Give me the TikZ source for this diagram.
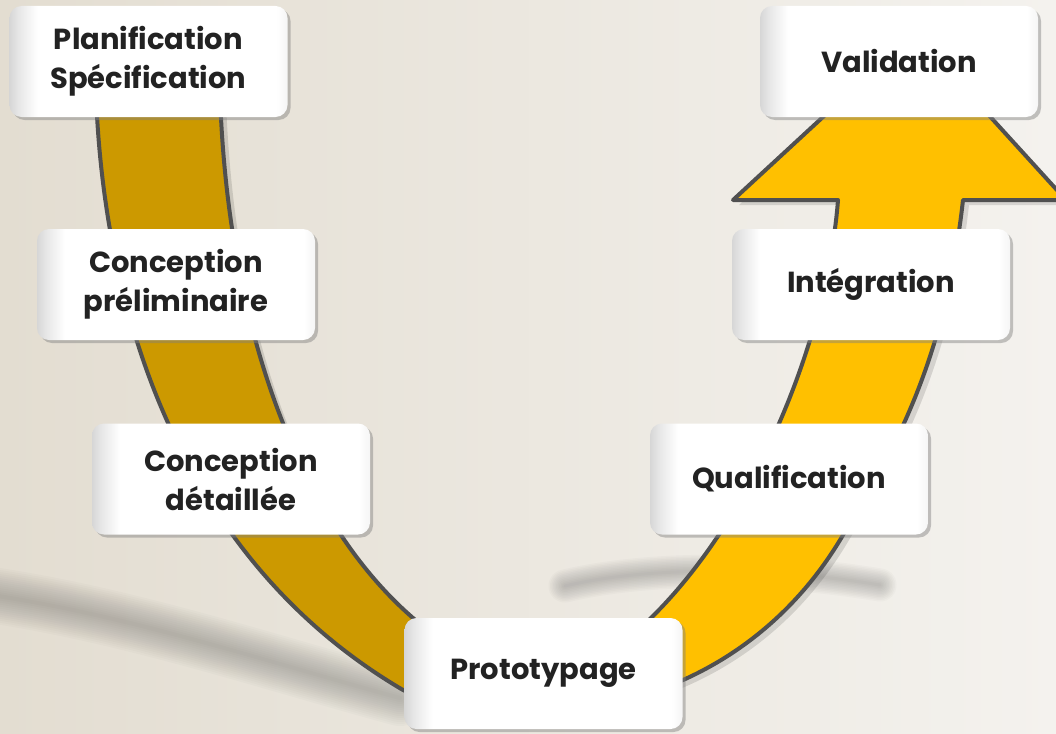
\documentclass[tikz,border=0pt]{standalone}
\usepackage{fontspec}
\setmainfont{Poppins}
\usetikzlibrary{shadows}
\definecolor{bgL}{HTML}{E3DDD1}
\definecolor{bgR}{HTML}{F4F2EE}
\definecolor{darkgold}{HTML}{CC9900}
\definecolor{gold}{HTML}{FFC000}
\definecolor{edgegray}{HTML}{505050}
\definecolor{txt}{HTML}{222222}
\pgfdeclarehorizontalshading{bevelshade}{100bp}{color(0bp)=(black!16); color(25bp)=(black!16); color(26.5bp)=(black!10); color(30bp)=(white); color(73bp)=(white); color(75bp)=(black!4); color(100bp)=(black!4)}
\def\darkpath{(96,95) .. controls (105,330) and (190,565) .. (403,690) .. controls (450,712) and (500,719) .. (548,719) -- (548,657) .. controls (500,657) and (450,650) .. (413,618) .. controls (300,520) and (228,330) .. (220,95) -- cycle}
\def\lightpath{(538,657) .. controls (590,657) and (625,645) .. (652,617) .. controls (760,510) and (828,330) .. (838,200) -- (733,200) -- (914,33) -- (1066,200) -- (963,200) .. controls (945,360) and (895,450) .. (843,535) .. controls (805,600) and (750,650) .. (683,680) .. controls (638,700) and (590,719) .. (538,719) -- cycle}
\begin{document}
\begin{tikzpicture}[x=1pt,y=-1pt,
  stage/.style={rounded corners=12pt, minimum width=278pt, minimum height=111pt,
    shading=bevelshade, align=center, text=txt,
    font=\fontsize{29}{39}\selectfont\bfseries,
    drop shadow={shadow xshift=3pt, shadow yshift=-3pt, opacity=0.45}},
  bandline/.style={draw=edgegray, line width=4pt, line join=round},
  swoosh/.style={black!60, line cap=round},
]
\useasboundingbox (0,0) rectangle (1056,733);
\fill[left color=bgL, right color=bgR] (0,0) rectangle (1056,733);
% soft background swooshes
\foreach \w in {4,8,...,56}{
  \draw[swoosh, line width=\w pt, opacity=0.03] (-30,592) .. controls (120,612) and (260,660) .. (400,698);
}
\foreach \w in {3,6,...,33}{
  \draw[swoosh, line width=\w pt, opacity=0.035] (565,586) .. controls (640,568) and (760,565) .. (880,585);
}
% band shadow
\begin{scope}[shift={(6,5)}]
  \fill[black, opacity=0.12] \lightpath;
  \fill[black, opacity=0.12] \darkpath;
\end{scope}
% U-shaped arrow
\path[bandline, fill=gold] \lightpath;
\path[bandline, fill=darkgold] \darkpath;
% stages
\node[stage] (plan)  at (148.5,61.5) {Planification\\Spécification};
\node[stage] (prel)  at (176,284.5)  {Conception\\préliminaire};
\node[stage] (det)   at (231,479)    {Conception\\détaillée};
\node[stage] (proto) at (543.5,673.5){Prototypage};
\node[stage] (qual)  at (789,479)    {Qualification};
\node[stage] (integ) at (871,284.5)  {Intégration};
\node[stage] (valid) at (899,61.5)   {Validation};
\end{tikzpicture}
\end{document}
